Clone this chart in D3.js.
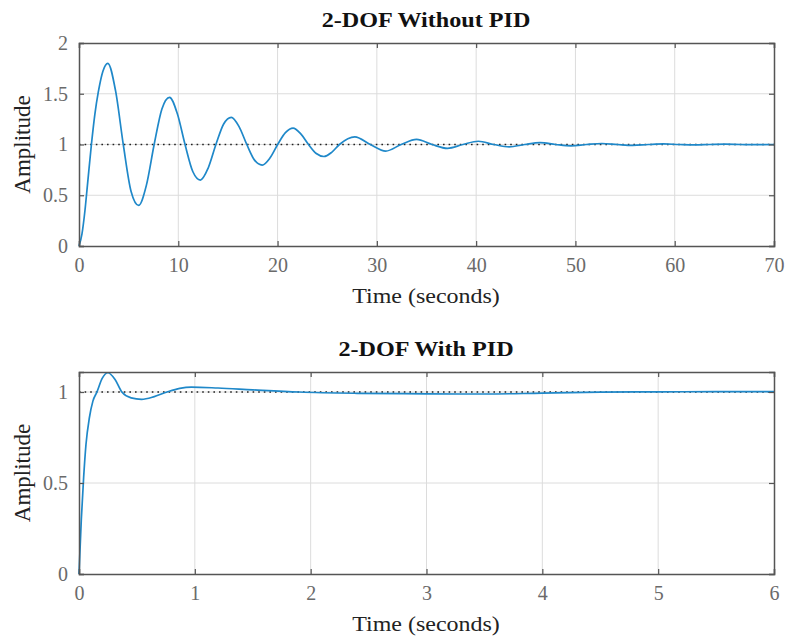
<!DOCTYPE html>
<html>
<head>
<meta charset="utf-8">
<script src="https://cdn.jsdelivr.net/npm/d3@7"></script>
<style>
  body { margin: 0; background: #fff; }
  svg { display: block; font-family: "Liberation Serif", "Times New Roman", serif; }
</style>
</head>
<body>
<div id="chart"></div>
<script>
// step response without PID
const timeNoPid = [0, 0.3, 0.6, 0.85, 1.25, 1.6, 1.95, 2.4, 2.9, 3.68, 4.46, 5.24, 6.01, 6.79, 7.57, 8.35, 9.12,
  9.9, 10.68, 11.46, 12.23, 13.01, 13.79, 14.57, 15.34, 16.12, 16.9, 17.68, 18.45, 19.23, 20.01, 20.79,
  21.56, 22.34, 23.12, 23.9, 24.67, 25.45, 26.23, 27.78, 29.34, 30.89, 32.45, 34.0, 35.56, 37.11, 38.67,
  40.22, 41.78, 43.33, 44.89, 46.44, 48.0, 49.55, 51.11, 52.66, 54.22, 55.77, 57.33, 58.88, 60.44, 61.99,
  63.55, 65.1, 66.66, 68.21, 69.77, 70];
const ampNoPid = [0, 0.12, 0.35, 0.6, 1.0, 1.3, 1.52, 1.72, 1.8, 1.53, 1.0, 0.54, 0.4, 0.6, 1.0, 1.35, 1.465,
  1.305, 1.0, 0.734, 0.65, 0.768, 1.0, 1.202, 1.268, 1.176, 1.0, 0.846, 0.797, 0.866, 1.0, 1.117,
  1.162, 1.105, 1.0, 0.911, 0.882, 0.923, 1.0, 1.075, 1.0, 0.935, 1.0, 1.05, 1.0, 0.962, 1.0,
  1.032, 1.0, 0.977, 1.0, 1.018, 1.0, 0.987, 1.0, 1.01, 1.0, 0.992, 1.0, 1.006, 1.0, 0.996,
  1.0, 1.003, 1.0, 0.998, 1.0, 1.0];

// step response with PID
const timePid = [0, 0.02, 0.04, 0.06, 0.09, 0.12, 0.155, 0.2, 0.25, 0.31, 0.37, 0.45, 0.54, 0.65, 0.76, 0.87,
  0.97, 1.2, 1.5, 1.9, 2.4, 3.0, 3.5, 4.0, 4.5, 5.0, 5.5, 6.0];
const ampPid = [0, 0.3, 0.53, 0.71, 0.86, 0.95, 1.0, 1.075, 1.106, 1.07, 1.0, 0.968, 0.96, 0.975, 1.0, 1.02,
  1.027, 1.022, 1.012, 1.0, 0.993, 0.99, 0.989, 0.994, 0.999, 1.001, 1.002, 1.002];

const ticksX1 = [0, 10, 20, 30, 40, 50, 60, 70];
const ticksY1 = [0, 0.5, 1, 1.5, 2];
const ticksX2 = [0, 1, 2, 3, 4, 5, 6];
const ticksY2 = [0, 0.5, 1];

const titles = ['2-DOF Without PID', '2-DOF With PID'];
const xLabel = 'Time (seconds)';
const yLabel = 'Amplitude';

const width = 787, height = 640;
const svg = d3.select('#chart').append('svg')
    .attr('width', width)
    .attr('height', height);

function drawPanel(cfg) {
    const x = d3.scaleLinear().domain(cfg.xDomain).range([79, 774]);
    const y = d3.scaleLinear().domain(cfg.yDomain).range([cfg.bottom, cfg.top]);
    const g = svg.append('g');

    // grid
    g.append('g').selectAll('line')
        .data(cfg.xTicks.slice(1, -1))
        .join('line')
        .attr('x1', d => x(d)).attr('x2', d => x(d))
        .attr('y1', cfg.top).attr('y2', cfg.bottom)
        .attr('stroke', '#dcdcdc').attr('stroke-width', 1);
    g.append('g').selectAll('line')
        .data(cfg.yTicks.filter(d => d > cfg.yDomain[0] && d < cfg.yDomain[1]))
        .join('line')
        .attr('x1', 79).attr('x2', 774)
        .attr('y1', d => y(d)).attr('y2', d => y(d))
        .attr('stroke', '#dcdcdc').attr('stroke-width', 1);

    // reference line at 1
    g.append('line')
        .attr('x1', x(cfg.xDomain[0])).attr('x2', x(cfg.xDomain[1]))
        .attr('y1', y(1)).attr('y2', y(1))
        .attr('stroke', '#222').attr('stroke-width', 1.6)
        .attr('stroke-dasharray', '1.6,4');

    // response
    g.append('path')
        .datum(d3.zip(cfg.t, cfg.a))
        .attr('fill', 'none')
        .attr('stroke', '#1f88c9')
        .attr('stroke-width', 1.7)
        .attr('d', d3.line().x(d => x(d[0])).y(d => y(d[1])).curve(d3.curveMonotoneX));

    // axes, ticks inward on all four sides
    const tl = -5;
    g.append('g').attr('transform', `translate(0,${cfg.bottom})`)
        .call(d3.axisBottom(x).tickValues(cfg.xTicks).tickSize(tl).tickPadding(12).tickFormat(d3.format('')));
    g.append('g').attr('transform', `translate(0,${cfg.top})`)
        .call(d3.axisTop(x).tickValues(cfg.xTicks).tickSize(tl).tickFormat(''));
    g.append('g').attr('transform', 'translate(79,0)')
        .call(d3.axisLeft(y).tickValues(cfg.yTicks).tickSize(tl).tickPadding(11).tickFormat(d3.format('')));
    g.append('g').attr('transform', 'translate(774,0)')
        .call(d3.axisRight(y).tickValues(cfg.yTicks).tickSize(tl).tickFormat(''));

    g.selectAll('.domain').attr('stroke', '#555').attr('stroke-width', 1.5);
    g.selectAll('.tick line').attr('stroke', '#555').attr('stroke-width', 1.2);
    g.selectAll('.tick text')
        .attr('fill', '#6a6a6a')
        .style('font-family', '"Liberation Serif", serif')
        .style('font-size', '20px');

    svg.append('text')
        .attr('transform', `translate(426,${cfg.top - 16}) scale(1.15,1)`)
        .attr('text-anchor', 'middle')
        .style('font-size', '21px').style('font-weight', 'bold')
        .attr('fill', '#111')
        .text(cfg.title);
    svg.append('text')
        .attr('transform', `translate(426,${cfg.bottom + 57}) scale(1.09,1)`)
        .attr('text-anchor', 'middle')
        .style('font-size', '22px')
        .attr('fill', '#222')
        .text(xLabel);
    svg.append('text')
        .attr('transform', `translate(30,${(cfg.top + cfg.bottom) / 2}) rotate(-90)`)
        .attr('text-anchor', 'middle')
        .style('font-size', '23px')
        .attr('fill', '#222')
        .text(yLabel);
}

drawPanel({ t: timeNoPid, a: ampNoPid, xDomain: [0, 70], yDomain: [0, 2],
    xTicks: ticksX1, yTicks: ticksY1, top: 43, bottom: 246, title: titles[0] });
drawPanel({ t: timePid, a: ampPid, xDomain: [0, 6], yDomain: [0, 1.11],
    xTicks: ticksX2, yTicks: ticksY2, top: 372, bottom: 574, title: titles[1] });
</script>
</body>
</html>
